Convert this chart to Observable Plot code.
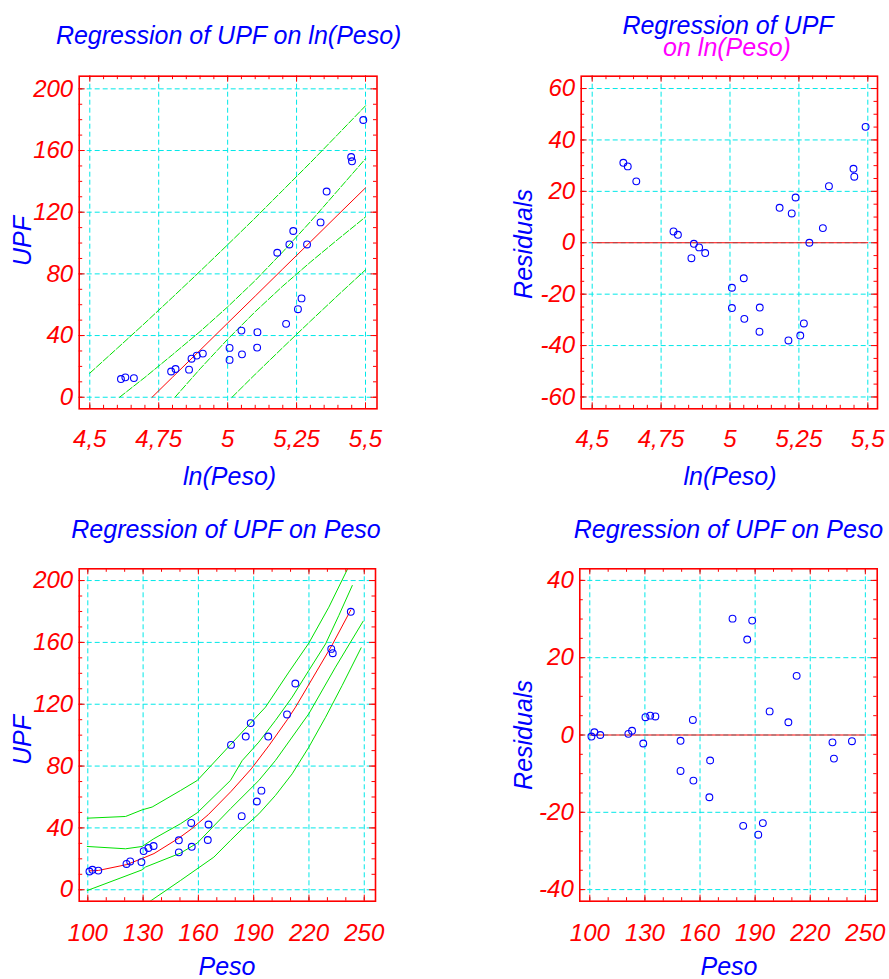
<!DOCTYPE html>
<html>
<head>
<meta charset="utf-8">
<script src="https://cdn.jsdelivr.net/npm/d3@7"></script>
<script src="https://cdn.jsdelivr.net/npm/@observablehq/plot@0.6"></script>
<style>
  html, body { margin: 0; padding: 0; background: #fff; }
  #wrap { position: relative; width: 889px; height: 979px; overflow: hidden; font-family: "Liberation Sans", Arial, sans-serif; }
  #wrap svg { position: absolute; }
  .t { position: absolute; white-space: nowrap; font-size: 25px; line-height: 20px; font-style: italic; color: #0000ff; transform: translateX(-50%); z-index: 5; }
  .r { position: absolute; white-space: nowrap; font-size: 25px; line-height: 20px; font-style: italic; color: #0000ff; transform: translate(-50%, -50%) rotate(-90deg); z-index: 5; }
</style>
</head>
<body>
<div id="wrap"></div>
<script>
// ---------------- data ----------------
const lnPeso = [4.613, 4.629, 4.660, 4.795, 4.811, 4.860, 4.869, 4.888, 4.910, 5.007, 5.007, 5.050, 5.052, 5.108, 5.107, 5.180, 5.212, 5.224, 5.238, 5.255, 5.268, 5.288, 5.337, 5.359, 5.448, 5.451, 5.492];
const peso   = [100.9, 102.5, 105.7, 121.0, 123.0, 129.1, 130.3, 132.9, 135.7, 149.4, 149.4, 156.1, 156.4, 165.5, 165.1, 177.7, 183.5, 185.7, 188.4, 191.7, 194.2, 197.9, 208.1, 212.6, 232.1, 232.9, 242.7];
const upf    = [11.8, 12.9, 12.4, 16.7, 18.3, 17.9, 25.0, 27.0, 28.3, 32.0, 24.2, 43.2, 27.8, 42.2, 32.2, 93.7, 47.6, 99.1, 107.8, 57.1, 64.1, 99.1, 113.4, 133.4, 155.8, 153.0, 179.8];
const residLn   = [31.1, 29.7, 23.9, 4.4, 3.1, -6.0, -0.4, -1.8, -4.0, -17.5, -25.4, -13.8, -29.6, -25.2, -34.6, 13.6, -38.0, 11.4, 17.6, -36.1, -31.4, 0.0, 5.7, 22.0, 28.8, 25.7, 45.1];
const residPeso = [-0.4, 0.7, 0.0, 0.3, 1.1, -2.2, 4.6, 5.0, 4.8, -1.5, -9.3, 3.9, -11.8, -6.6, -16.1, 30.1, -23.5, 24.7, 29.6, -25.8, -22.8, 6.1, 3.3, 15.3, -1.9, -6.1, -1.6];

// fitted line and limits, UPF on ln(Peso)
const fitLnX    = [4.726, 4.8, 4.9, 5.0, 5.1, 5.2, 5.3, 5.4, 5.5];
const fitLnY    = [0, 13.0, 30.5, 48.1, 65.6, 83.2, 100.7, 118.3, 135.8];
const confUpLnX = [4.608, 4.7, 4.8, 4.9, 5.0, 5.1, 5.2, 5.3, 5.4, 5.5];
const confUpLnY = [0, 12.9, 27.6, 42.6, 58.6, 75.7, 94.3, 113.8, 134.2, 154.7];
const confLoLnX = [4.809, 4.9, 5.0, 5.1, 5.2, 5.3, 5.4, 5.5];
const confLoLnY = [0, 18.4, 37.6, 55.5, 72.1, 87.6, 102.4, 116.9];
const predUpLnX = [4.5, 4.6, 4.7, 4.8, 4.9, 5.0, 5.1, 5.2, 5.3, 5.4, 5.5];
const predUpLnY = [15.6, 31.8, 48.1, 64.8, 81.7, 98.9, 116.3, 134.2, 152.1, 170.5, 189.0];
const predLoLnX = [5.016, 5.1, 5.2, 5.3, 5.4, 5.5];
const predLoLnY = [0, 14.9, 32.2, 49.3, 66.1, 82.6];

// fitted curve and limits, UPF on Peso
const fitPX    = [100.9, 105.8, 121.2, 129.2, 135.9, 149.4, 156.3, 165.3, 177.8, 188.7, 198.2, 208.3, 212.7, 232.6, 242.7];
const fitPY    = [12.2, 12.5, 16.3, 20.1, 23.4, 33.4, 39.4, 48.5, 63.7, 78.2, 93.1, 110.1, 118.1, 158.4, 181.0];
const predUpPX = [99.7, 120.5, 129.5, 134.9, 150.3, 159.4, 177.4, 188.3, 196.4, 209.1, 219.9, 230.8, 241.6];
const predUpPY = [46.3, 47.4, 51.7, 53.5, 64.2, 70.7, 93.8, 107.8, 118.1, 140.8, 159.5, 182.8, 209.1];
const confUpPX = [99.7, 120.5, 129.5, 135.8, 150.3, 159.4, 177.4, 183.8, 192.8, 201.8, 210.9, 219.9, 229.0, 236.2, 243.5];
const confUpPY = [28.0, 26.5, 28.0, 33.0, 42.7, 49.8, 70.7, 83.6, 95.5, 109.5, 124.6, 141.8, 159.0, 177.4, 196.8];
const confLoPX = [99.7, 129.5, 131.3, 150.3, 159.4, 177.4, 192.8, 201.8, 219.9, 234.4, 249.4];
const confLoPY = [-0.5, 12.9, 14.7, 23.7, 30.2, 52.4, 70.7, 83.6, 113.8, 144.0, 173.7];
const predLoPX = [133.1, 150.3, 168.4, 177.4, 183.8, 192.8, 201.8, 210.9, 219.9, 229.0, 238.0, 248.3];
const predLoPY = [-8.0, 6.0, 21.1, 31.9, 39.4, 49.1, 61.0, 75.0, 92.2, 111.6, 132.1, 156.5];

// zero reference lines of the residual plots
const zeroLnX = [4.5, 5.5];
const zeroPX  = [100, 250];

// ticks
const lnTicks    = [4.5, 4.75, 5, 5.25, 5.5];
const pesoTicks  = [100, 130, 160, 190, 220, 250];
const upfTicks   = [0, 40, 80, 120, 160, 200];
const resLnTicks = [-60, -40, -20, 0, 20, 40, 60];
const resPTicks  = [-40, -20, 0, 20, 40];

// ---------------- drawing ----------------
const RED = "#ff0000", BLUE = "#0000ff", CYAN = "#00e8e8", GREEN = "#00e000", MAG = "#ff00ff";
const FONT = "'Liberation Sans', Arial, sans-serif";
const pts = (xs, ys) => xs.map((x, i) => ({x, y: ys[i]}));
const fmt = d => String(d).replace(".", ",");

function panel(o) {
  const pw = o.w - o.ml - o.mr, ph = o.h - o.mt - o.mb;
  const tk = {stroke: RED, strokeWidth: 1};
  return Plot.plot({
    width: o.w, height: o.h,
    marginLeft: o.ml, marginRight: o.mr, marginTop: o.mt, marginBottom: o.mb,
    x: {domain: o.xd, axis: null},
    y: {domain: o.yd, axis: null},
    style: {fontFamily: FONT, background: "white", overflow: "visible"},
    marks: [
      Plot.ruleX(o.xMaj, {stroke: CYAN, strokeWidth: 1, strokeDasharray: "5,3"}),
      Plot.ruleY(o.yMaj, {stroke: CYAN, strokeWidth: 1, strokeDasharray: "5,3"}),
      ...o.marks,
      Plot.tickX(o.xMin, {x: d => d, ...tk, insetTop: ph - 3.5}),
      Plot.tickX(o.xMin, {x: d => d, ...tk, insetBottom: ph - 3.5}),
      Plot.tickX(o.xMaj, {x: d => d, ...tk, insetTop: ph - 6}),
      Plot.tickX(o.xMaj, {x: d => d, ...tk, insetBottom: ph - 6}),
      Plot.tickY(o.yMin, {y: d => d, ...tk, insetRight: pw - 3.5}),
      Plot.tickY(o.yMin, {y: d => d, ...tk, insetLeft: pw - 3.5}),
      Plot.tickY(o.yMaj, {y: d => d, ...tk, insetRight: pw - 6}),
      Plot.tickY(o.yMaj, {y: d => d, ...tk, insetLeft: pw - 6}),
      Plot.frame({stroke: RED, strokeWidth: 1.6}),
      Plot.text(o.xMaj, {x: d => d, frameAnchor: "bottom", dy: o.xdy, lineAnchor: "top", text: fmt,
        fill: RED, fontSize: 24, fontStyle: "italic", fontFamily: FONT}),
      Plot.text(o.yMaj, {y: d => d, frameAnchor: "left", dx: -6, textAnchor: "end", lineAnchor: "middle", text: fmt,
        fill: RED, fontSize: 24, fontStyle: "italic", fontFamily: FONT})
    ]
  });
}

const wrap = document.getElementById("wrap");
function place(svg, left, top) { svg.style.left = left + "px"; svg.style.top = top + "px"; wrap.appendChild(svg); }

const dotOpts = {r: 3.4, stroke: BLUE, strokeWidth: 1.1, fill: "none"};
const dashG = {stroke: GREEN, strokeWidth: 1, strokeDasharray: "7,2", clip: true};
const solidG = {stroke: GREEN, strokeWidth: 1, clip: true};

// Panel 1: UPF vs ln(Peso)
place(panel({
  w: 444, h: 490, ml: 78.7, mr: 67.5, mt: 75.7, mb: 81.7,
  xd: [4.4616, 5.5417], yd: [-7.5, 208.2],
  xMaj: lnTicks, xMin: d3.range(4.5, 5.5001, 0.05),
  yMaj: upfTicks, yMin: d3.range(0, 200.01, 10), xdy: 21,
  marks: [
    Plot.line(pts(predUpLnX, predUpLnY), {x: "x", y: "y", ...dashG}),
    Plot.line(pts(confUpLnX, confUpLnY), {x: "x", y: "y", ...dashG}),
    Plot.line(pts(confLoLnX, confLoLnY), {x: "x", y: "y", ...dashG}),
    Plot.line(pts(predLoLnX, predLoLnY), {x: "x", y: "y", ...dashG}),
    Plot.line(pts(fitLnX, fitLnY), {x: "x", y: "y", stroke: RED, strokeWidth: 1, clip: true}),
    Plot.dot(pts(lnPeso, upf), {x: "x", y: "y", ...dotOpts})
  ]
}), 0, 0);

// Panel 2: residuals vs ln(Peso)
place(panel({
  w: 445, h: 490, ml: 136.7, mr: 12, mt: 75.7, mb: 81.7,
  xd: [4.4601, 5.5352], yd: [-64.6, 64.8],
  xMaj: lnTicks, xMin: d3.range(4.5, 5.5001, 0.05),
  yMaj: resLnTicks, yMin: d3.range(-60, 60.01, 5), xdy: 21,
  marks: [
    Plot.line(pts(zeroLnX, [0, 0]), {x: "x", y: "y", stroke: RED, strokeWidth: 1}),
    Plot.dot(pts(lnPeso, residLn), {x: "x", y: "y", ...dotOpts})
  ]
}), 444, 0);

// Panel 3: UPF vs Peso
place(panel({
  w: 444, h: 489, ml: 78.7, mr: 69, mt: 78.3, mb: 78.3,
  xd: [95.33, 256.1], yd: [-7.4, 207.6],
  xMaj: pesoTicks, xMin: d3.range(100, 250.01, 10),
  yMaj: upfTicks, yMin: d3.range(0, 200.01, 10), xdy: 22.5,
  marks: [
    Plot.line(pts(predUpPX, predUpPY), {x: "x", y: "y", ...solidG}),
    Plot.line(pts(confUpPX, confUpPY), {x: "x", y: "y", ...solidG}),
    Plot.line(pts(confLoPX, confLoPY), {x: "x", y: "y", ...solidG}),
    Plot.line(pts(predLoPX, predLoPY), {x: "x", y: "y", ...solidG}),
    Plot.line(pts(fitPX, fitPY), {x: "x", y: "y", stroke: RED, strokeWidth: 1, clip: true}),
    Plot.dot(pts(peso, upf), {x: "x", y: "y", ...dotOpts})
  ]
}), 0, 490);

// Panel 4: residuals vs Peso
place(panel({
  w: 445, h: 489, ml: 135.3, mr: 12.3, mt: 78.3, mb: 78.3,
  xd: [94.56, 256.45], yd: [-43.0, 43.0],
  xMaj: pesoTicks, xMin: d3.range(100, 250.01, 10),
  yMaj: resPTicks, yMin: d3.range(-40, 40.01, 5), xdy: 22.5,
  marks: [
    Plot.line(pts(zeroPX, [0, 0]), {x: "x", y: "y", stroke: RED, strokeWidth: 1}),
    Plot.dot(pts(peso, residPeso), {x: "x", y: "y", ...dotOpts})
  ]
}), 444, 490);

// ---------------- titles ----------------
const labels = [
  ["t", "Regression of UPF on ln(Peso)", 228.7, 25.2, BLUE],
  ["t", "Regression of UPF", 728, 15.2, BLUE],
  ["t", "on ln(Peso)", 727, 37.1, MAG],
  ["t", "ln(Peso)", 229.6, 465.5, BLUE],
  ["t", "ln(Peso)", 730, 465.5, BLUE],
  ["t", "Regression of UPF on Peso", 226, 518.5, BLUE],
  ["t", "Regression of UPF on Peso", 728.5, 518.5, BLUE],
  ["t", "Peso", 227, 956, BLUE],
  ["t", "Peso", 729, 956, BLUE],
  ["r", "UPF", 22, 241, BLUE],
  ["r", "Residuals", 523, 244, BLUE],
  ["r", "UPF", 22, 740, BLUE],
  ["r", "Residuals", 523, 735, BLUE]
];
for (const [cls, txt, x, y, col] of labels) {
  const d = document.createElement("div");
  d.className = cls;
  d.textContent = txt;
  d.style.left = x + "px";
  d.style.top = y + "px";
  d.style.color = col;
  wrap.appendChild(d);
}
</script>
</body>
</html>
